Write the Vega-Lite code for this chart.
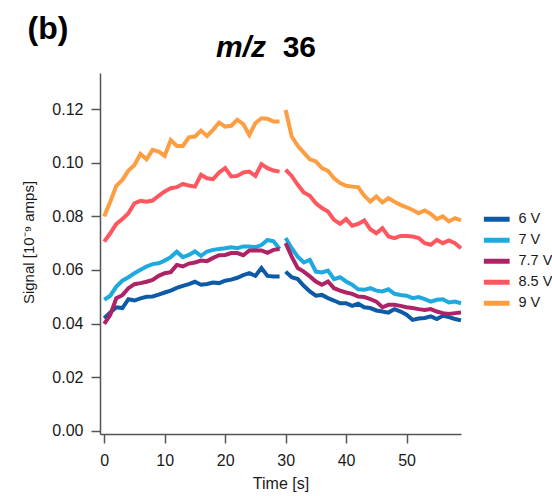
{
  "$schema": "https://vega.github.io/schema/vega-lite/v6.json",
  "width": 361,
  "height": 361,
  "autosize": {"type": "none"},
  "padding": {"left": 100, "top": 73, "right": 91, "bottom": 62},
  "background": "white",
  "title": {
    "text": "m/z",
    "subtitle": "\u200b\u00a0\u00a0\u00a0\u00a0\u00a0\u00a0\u00a0\u00a036",
    "anchor": "middle",
    "frame": "group",
    "align": "left",
    "dx": -64.5,
    "offset": -51,
    "font": "Liberation Sans",
    "fontSize": 30,
    "fontStyle": "italic",
    "fontWeight": "bold",
    "color": "black",
    "subtitleFont": "Liberation Sans",
    "subtitleFontSize": 30,
    "subtitleFontStyle": "normal",
    "subtitleFontWeight": "bold",
    "subtitleColor": "black",
    "subtitlePadding": -30
  },
  "data": {"values": [
    {"k":"6 V","t":0,"v":0.0420},{"k":"6 V","t":1,"v":0.0441},{"k":"6 V","t":2,"v":0.0461},{"k":"6 V","t":3,"v":0.0458},{"k":"6 V","t":4,"v":0.0491},{"k":"6 V","t":5,"v":0.0486},{"k":"6 V","t":6,"v":0.0494},{"k":"6 V","t":7,"v":0.0500},{"k":"6 V","t":8,"v":0.0501},{"k":"6 V","t":9,"v":0.0508},{"k":"6 V","t":10,"v":0.0516},{"k":"6 V","t":11,"v":0.0523},{"k":"6 V","t":12,"v":0.0533},{"k":"6 V","t":13,"v":0.0541},{"k":"6 V","t":14,"v":0.0547},{"k":"6 V","t":15,"v":0.0556},{"k":"6 V","t":16,"v":0.0545},{"k":"6 V","t":17,"v":0.0548},{"k":"6 V","t":18,"v":0.0553},{"k":"6 V","t":19,"v":0.0551},{"k":"6 V","t":20,"v":0.0560},{"k":"6 V","t":21,"v":0.0564},{"k":"6 V","t":22,"v":0.0571},{"k":"6 V","t":23,"v":0.0581},{"k":"6 V","t":24,"v":0.0588},{"k":"6 V","t":25,"v":0.0578},{"k":"6 V","t":26,"v":0.0607},{"k":"6 V","t":27,"v":0.0578},{"k":"6 V","t":28,"v":0.0576},{"k":"6 V","t":29,"v":0.0576},
    {"k":"6 V","t":30,"v":0.0594},{"k":"6 V","t":31,"v":0.0573},{"k":"6 V","t":32,"v":0.0566},{"k":"6 V","t":33,"v":0.0541},{"k":"6 V","t":34,"v":0.0520},{"k":"6 V","t":35,"v":0.0504},{"k":"6 V","t":36,"v":0.0507},{"k":"6 V","t":37,"v":0.0495},{"k":"6 V","t":38,"v":0.0486},{"k":"6 V","t":39,"v":0.0476},{"k":"6 V","t":40,"v":0.0476},{"k":"6 V","t":41,"v":0.0466},{"k":"6 V","t":42,"v":0.0474},{"k":"6 V","t":43,"v":0.0461},{"k":"6 V","t":44,"v":0.0458},{"k":"6 V","t":45,"v":0.0449},{"k":"6 V","t":46,"v":0.0445},{"k":"6 V","t":47,"v":0.0441},{"k":"6 V","t":48,"v":0.0454},{"k":"6 V","t":49,"v":0.0445},{"k":"6 V","t":50,"v":0.0433},{"k":"6 V","t":51,"v":0.0414},{"k":"6 V","t":52,"v":0.0419},{"k":"6 V","t":53,"v":0.0421},{"k":"6 V","t":54,"v":0.0427},{"k":"6 V","t":55,"v":0.0417},{"k":"6 V","t":56,"v":0.0429},{"k":"6 V","t":57,"v":0.0424},{"k":"6 V","t":58,"v":0.0417},{"k":"6 V","t":59,"v":0.0412},
    {"k":"7 V","t":0,"v":0.0489},{"k":"7 V","t":1,"v":0.0504},{"k":"7 V","t":2,"v":0.0538},{"k":"7 V","t":3,"v":0.0560},{"k":"7 V","t":4,"v":0.0573},{"k":"7 V","t":5,"v":0.0588},{"k":"7 V","t":6,"v":0.0601},{"k":"7 V","t":7,"v":0.0613},{"k":"7 V","t":8,"v":0.0622},{"k":"7 V","t":9,"v":0.0625},{"k":"7 V","t":10,"v":0.0635},{"k":"7 V","t":11,"v":0.0648},{"k":"7 V","t":12,"v":0.0668},{"k":"7 V","t":13,"v":0.0648},{"k":"7 V","t":14,"v":0.0656},{"k":"7 V","t":15,"v":0.0669},{"k":"7 V","t":16,"v":0.0653},{"k":"7 V","t":17,"v":0.0669},{"k":"7 V","t":18,"v":0.0675},{"k":"7 V","t":19,"v":0.0678},{"k":"7 V","t":20,"v":0.0681},{"k":"7 V","t":21,"v":0.0685},{"k":"7 V","t":22,"v":0.0681},{"k":"7 V","t":23,"v":0.0688},{"k":"7 V","t":24,"v":0.0688},{"k":"7 V","t":25,"v":0.0685},{"k":"7 V","t":26,"v":0.0693},{"k":"7 V","t":27,"v":0.0712},{"k":"7 V","t":28,"v":0.0707},{"k":"7 V","t":29,"v":0.0678},
    {"k":"7 V","t":30,"v":0.0719},{"k":"7 V","t":31,"v":0.0681},{"k":"7 V","t":32,"v":0.0650},{"k":"7 V","t":33,"v":0.0628},{"k":"7 V","t":34,"v":0.0638},{"k":"7 V","t":35,"v":0.0594},{"k":"7 V","t":36,"v":0.0591},{"k":"7 V","t":37,"v":0.0598},{"k":"7 V","t":38,"v":0.0566},{"k":"7 V","t":39,"v":0.0573},{"k":"7 V","t":40,"v":0.0557},{"k":"7 V","t":41,"v":0.0545},{"k":"7 V","t":42,"v":0.0528},{"k":"7 V","t":43,"v":0.0526},{"k":"7 V","t":44,"v":0.0532},{"k":"7 V","t":45,"v":0.0523},{"k":"7 V","t":46,"v":0.0520},{"k":"7 V","t":47,"v":0.0528},{"k":"7 V","t":48,"v":0.0511},{"k":"7 V","t":49,"v":0.0507},{"k":"7 V","t":50,"v":0.0504},{"k":"7 V","t":51,"v":0.0495},{"k":"7 V","t":52,"v":0.0499},{"k":"7 V","t":53,"v":0.0491},{"k":"7 V","t":54,"v":0.0482},{"k":"7 V","t":55,"v":0.0489},{"k":"7 V","t":56,"v":0.0491},{"k":"7 V","t":57,"v":0.0479},{"k":"7 V","t":58,"v":0.0482},{"k":"7 V","t":59,"v":0.0476},
    {"k":"7.7 V","t":0,"v":0.0399},{"k":"7.7 V","t":1,"v":0.0433},{"k":"7.7 V","t":2,"v":0.0495},{"k":"7.7 V","t":3,"v":0.0506},{"k":"7.7 V","t":4,"v":0.0532},{"k":"7.7 V","t":5,"v":0.0547},{"k":"7.7 V","t":6,"v":0.0551},{"k":"7.7 V","t":7,"v":0.0556},{"k":"7.7 V","t":8,"v":0.0563},{"k":"7.7 V","t":9,"v":0.0578},{"k":"7.7 V","t":10,"v":0.0588},{"k":"7.7 V","t":11,"v":0.0592},{"k":"7.7 V","t":12,"v":0.0619},{"k":"7.7 V","t":13,"v":0.0613},{"k":"7.7 V","t":14,"v":0.0624},{"k":"7.7 V","t":15,"v":0.0628},{"k":"7.7 V","t":16,"v":0.0635},{"k":"7.7 V","t":17,"v":0.0633},{"k":"7.7 V","t":18,"v":0.0645},{"k":"7.7 V","t":19,"v":0.0655},{"k":"7.7 V","t":20,"v":0.0656},{"k":"7.7 V","t":21,"v":0.0663},{"k":"7.7 V","t":22,"v":0.0663},{"k":"7.7 V","t":23,"v":0.0655},{"k":"7.7 V","t":24,"v":0.0673},{"k":"7.7 V","t":25,"v":0.0673},{"k":"7.7 V","t":26,"v":0.0673},{"k":"7.7 V","t":27,"v":0.0664},{"k":"7.7 V","t":28,"v":0.0675},{"k":"7.7 V","t":29,"v":0.0678},
    {"k":"7.7 V","t":30,"v":0.0700},{"k":"7.7 V","t":31,"v":0.0650},{"k":"7.7 V","t":32,"v":0.0607},{"k":"7.7 V","t":33,"v":0.0594},{"k":"7.7 V","t":34,"v":0.0576},{"k":"7.7 V","t":35,"v":0.0557},{"k":"7.7 V","t":36,"v":0.0545},{"k":"7.7 V","t":37,"v":0.0557},{"k":"7.7 V","t":38,"v":0.0532},{"k":"7.7 V","t":39,"v":0.0523},{"k":"7.7 V","t":40,"v":0.0516},{"k":"7.7 V","t":41,"v":0.0511},{"k":"7.7 V","t":42,"v":0.0501},{"k":"7.7 V","t":43,"v":0.0499},{"k":"7.7 V","t":44,"v":0.0491},{"k":"7.7 V","t":45,"v":0.0482},{"k":"7.7 V","t":46,"v":0.0461},{"k":"7.7 V","t":47,"v":0.0470},{"k":"7.7 V","t":48,"v":0.0470},{"k":"7.7 V","t":49,"v":0.0466},{"k":"7.7 V","t":50,"v":0.0461},{"k":"7.7 V","t":51,"v":0.0458},{"k":"7.7 V","t":52,"v":0.0454},{"k":"7.7 V","t":53,"v":0.0451},{"k":"7.7 V","t":54,"v":0.0454},{"k":"7.7 V","t":55,"v":0.0445},{"k":"7.7 V","t":56,"v":0.0439},{"k":"7.7 V","t":57,"v":0.0436},{"k":"7.7 V","t":58,"v":0.0439},{"k":"7.7 V","t":59,"v":0.0441},
    {"k":"8.5 V","t":0,"v":0.0706},{"k":"8.5 V","t":1,"v":0.0737},{"k":"8.5 V","t":2,"v":0.0772},{"k":"8.5 V","t":3,"v":0.0790},{"k":"8.5 V","t":4,"v":0.0812},{"k":"8.5 V","t":5,"v":0.0849},{"k":"8.5 V","t":6,"v":0.0858},{"k":"8.5 V","t":7,"v":0.0855},{"k":"8.5 V","t":8,"v":0.0859},{"k":"8.5 V","t":9,"v":0.0877},{"k":"8.5 V","t":10,"v":0.0893},{"k":"8.5 V","t":11,"v":0.0905},{"k":"8.5 V","t":12,"v":0.0909},{"k":"8.5 V","t":13,"v":0.0921},{"k":"8.5 V","t":14,"v":0.0915},{"k":"8.5 V","t":15,"v":0.0911},{"k":"8.5 V","t":16,"v":0.0955},{"k":"8.5 V","t":17,"v":0.0942},{"k":"8.5 V","t":18,"v":0.0939},{"k":"8.5 V","t":19,"v":0.0964},{"k":"8.5 V","t":20,"v":0.0980},{"k":"8.5 V","t":21,"v":0.0949},{"k":"8.5 V","t":22,"v":0.0951},{"k":"8.5 V","t":23,"v":0.0964},{"k":"8.5 V","t":24,"v":0.0967},{"k":"8.5 V","t":25,"v":0.0951},{"k":"8.5 V","t":26,"v":0.0995},{"k":"8.5 V","t":27,"v":0.0980},{"k":"8.5 V","t":28,"v":0.0971},{"k":"8.5 V","t":29,"v":0.0967},
    {"k":"8.5 V","t":30,"v":0.0974},{"k":"8.5 V","t":31,"v":0.0951},{"k":"8.5 V","t":32,"v":0.0918},{"k":"8.5 V","t":33,"v":0.0889},{"k":"8.5 V","t":34,"v":0.0877},{"k":"8.5 V","t":35,"v":0.0849},{"k":"8.5 V","t":36,"v":0.0831},{"k":"8.5 V","t":37,"v":0.0818},{"k":"8.5 V","t":38,"v":0.0787},{"k":"8.5 V","t":39,"v":0.0772},{"k":"8.5 V","t":40,"v":0.0790},{"k":"8.5 V","t":41,"v":0.0765},{"k":"8.5 V","t":42,"v":0.0772},{"k":"8.5 V","t":43,"v":0.0785},{"k":"8.5 V","t":44,"v":0.0752},{"k":"8.5 V","t":45,"v":0.0737},{"k":"8.5 V","t":46,"v":0.0756},{"k":"8.5 V","t":47,"v":0.0725},{"k":"8.5 V","t":48,"v":0.0719},{"k":"8.5 V","t":49,"v":0.0727},{"k":"8.5 V","t":50,"v":0.0727},{"k":"8.5 V","t":51,"v":0.0725},{"k":"8.5 V","t":52,"v":0.0719},{"k":"8.5 V","t":53,"v":0.0700},{"k":"8.5 V","t":54,"v":0.0694},{"k":"8.5 V","t":55,"v":0.0712},{"k":"8.5 V","t":56,"v":0.0700},{"k":"8.5 V","t":57,"v":0.0710},{"k":"8.5 V","t":58,"v":0.0700},{"k":"8.5 V","t":59,"v":0.0681},
    {"k":"9 V","t":0,"v":0.0800},{"k":"9 V","t":1,"v":0.0855},{"k":"9 V","t":2,"v":0.0914},{"k":"9 V","t":3,"v":0.0936},{"k":"9 V","t":4,"v":0.0971},{"k":"9 V","t":5,"v":0.0992},{"k":"9 V","t":6,"v":0.1033},{"k":"9 V","t":7,"v":0.1013},{"k":"9 V","t":8,"v":0.1048},{"k":"9 V","t":9,"v":0.1042},{"k":"9 V","t":10,"v":0.1026},{"k":"9 V","t":11,"v":0.1085},{"k":"9 V","t":12,"v":0.1063},{"k":"9 V","t":13,"v":0.1063},{"k":"9 V","t":14,"v":0.1095},{"k":"9 V","t":15,"v":0.1098},{"k":"9 V","t":16,"v":0.1120},{"k":"9 V","t":17,"v":0.1100},{"k":"9 V","t":18,"v":0.1123},{"k":"9 V","t":19,"v":0.1150},{"k":"9 V","t":20,"v":0.1135},{"k":"9 V","t":21,"v":0.1138},{"k":"9 V","t":22,"v":0.1160},{"k":"9 V","t":23,"v":0.1144},{"k":"9 V","t":24,"v":0.1104},{"k":"9 V","t":25,"v":0.1148},{"k":"9 V","t":26,"v":0.1166},{"k":"9 V","t":27,"v":0.1164},{"k":"9 V","t":28,"v":0.1154},{"k":"9 V","t":29,"v":0.1154},
    {"k":"9 V","t":30,"v":0.1197},{"k":"9 V","t":31,"v":0.1098},{"k":"9 V","t":32,"v":0.1063},{"k":"9 V","t":33,"v":0.1038},{"k":"9 V","t":34,"v":0.1013},{"k":"9 V","t":35,"v":0.1005},{"k":"9 V","t":36,"v":0.0980},{"k":"9 V","t":37,"v":0.0970},{"k":"9 V","t":38,"v":0.0942},{"k":"9 V","t":39,"v":0.0924},{"k":"9 V","t":40,"v":0.0914},{"k":"9 V","t":41,"v":0.0911},{"k":"9 V","t":42,"v":0.0909},{"k":"9 V","t":43,"v":0.0877},{"k":"9 V","t":44,"v":0.0855},{"k":"9 V","t":45,"v":0.0874},{"k":"9 V","t":46,"v":0.0852},{"k":"9 V","t":47,"v":0.0868},{"k":"9 V","t":48,"v":0.0855},{"k":"9 V","t":49,"v":0.0843},{"k":"9 V","t":50,"v":0.0834},{"k":"9 V","t":51,"v":0.0824},{"k":"9 V","t":52,"v":0.0812},{"k":"9 V","t":53,"v":0.0822},{"k":"9 V","t":54,"v":0.0809},{"k":"9 V","t":55,"v":0.0790},{"k":"9 V","t":56,"v":0.0800},{"k":"9 V","t":57,"v":0.0781},{"k":"9 V","t":58,"v":0.0793},{"k":"9 V","t":59,"v":0.0785}
  ]},
  "encoding": {
    "y": {
      "field": "v", "type": "quantitative",
      "scale": {"domain": [-0.0012, 0.1335], "nice": false, "zero": false},
      "axis": {"values": [0, 0.02, 0.04, 0.06, 0.08, 0.1, 0.12], "format": ".2f", "tickSize": 9, "labelPadding": 8, "labelFontSize": 16, "title": "Signal [10\u207b\u2079 amps]", "titleFontSize": 15, "titleFontWeight": "normal", "titlePadding": 15, "titleY": 169}
    },
    "color": {
      "field": "k", "type": "nominal",
      "scale": {"domain": ["6 V", "7 V", "7.7 V", "8.5 V", "9 V"], "range": ["#0d5ba7", "#1eaade", "#ae2366", "#fe575f", "#fd9e43"]},
      "legend": {"orient": "none", "legendX": 389.5, "legendY": 139, "title": null, "symbolType": "M-4.3,0H4.3", "symbolStrokeWidth": 5, "symbolSize": 36, "labelFontSize": 14.5, "labelFont": "Liberation Sans", "labelColor": "#1a1a1a", "labelOffset": 14.5, "rowPadding": 0}
    }
  },
  "layer": [
    {
      "transform": [{"filter": {"field": "t", "lte": 29}}],
      "mark": {"type": "line", "strokeWidth": 4, "clip": false},
      "encoding": {
        "x": {
          "field": "t", "type": "quantitative",
          "scale": {"domain": [-0.7, 59], "nice": false, "zero": false},
          "axis": {"orient": "bottom", "values": [0, 10, 20, 30, 40, 50], "tickSize": 9, "labelPadding": 9, "labelFontSize": 16, "title": "Time [s]", "titleFontSize": 16, "titleFontWeight": "normal", "titlePadding": 7}
        }
      }
    },
    {
      "transform": [{"filter": {"field": "t", "gte": 30}}],
      "mark": {"type": "line", "strokeWidth": 4, "clip": false},
      "encoding": {
        "x": {
          "field": "t", "type": "quantitative",
          "axis": {"orient": "top", "domain": false, "ticks": false, "labels": false, "title": "(b)", "titleX": -73, "titleY": -35, "titleAlign": "left", "titleBaseline": "alphabetic", "titleAngle": 0, "titleFontSize": 32, "titleFontWeight": "bold", "titleColor": "black"}
        }
      }
    }
  ],
  "resolve": {"axis": {"x": "independent"}},
  "config": {
    "view": {"stroke": null},
    "axis": {"grid": false, "domainColor": "#555555", "domainWidth": 1.5, "tickColor": "#555555", "tickWidth": 1.5, "labelFont": "Liberation Sans", "titleFont": "Liberation Sans", "labelColor": "#1a1a1a", "titleColor": "#1a1a1a"}
  }
}
